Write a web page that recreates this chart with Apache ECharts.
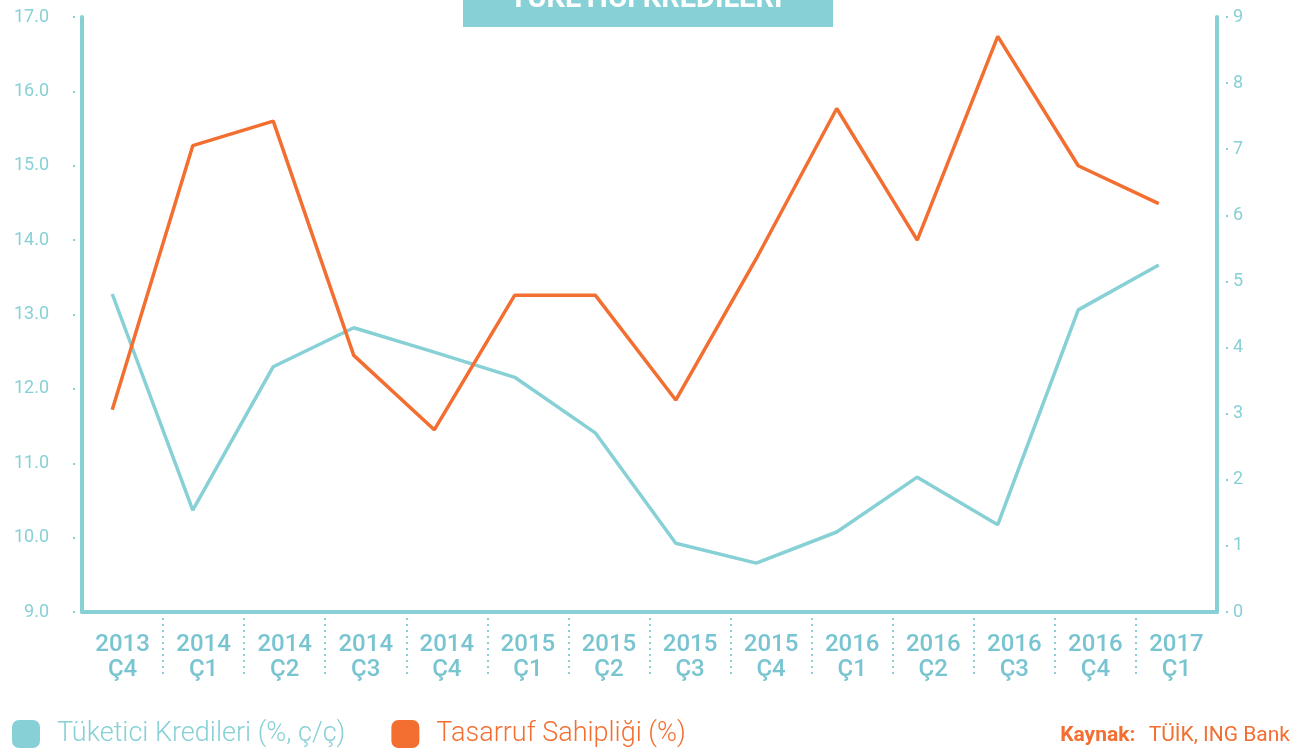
<!DOCTYPE html>
<html>
<head>
<meta charset="utf-8">
<title>Tüketici Kredileri</title>
<script src="https://cdn.jsdelivr.net/npm/echarts@6/dist/echarts.min.js"></script>
<style>
  html, body { margin: 0; padding: 0; background: #fff; }
  #chart { width: 1295px; height: 749px; }
</style>
</head>
<body>
<div id="chart"></div>
<script>
// ceyrekler (quarters)
var quarters = ['2013\nÇ4', '2014\nÇ1', '2014\nÇ2', '2014\nÇ3', '2014\nÇ4', '2015\nÇ1', '2015\nÇ2',
  '2015\nÇ3', '2015\nÇ4', '2016\nÇ1', '2016\nÇ2', '2016\nÇ3', '2016\nÇ4', '2017\nÇ1']
// Tüketici Kredileri (%, ç/ç) - sag eksen
var krediler = [4.81, 1.54, 3.71, 4.30, 3.93, 3.55, 2.71, 1.04, 0.74, 1.21, 2.04, 1.32, 4.57, 5.25]
// Tasarruf Sahipliği (%) - sol eksen
var tasarruf = [11.72, 15.27, 15.60, 12.45, 11.45, 13.26, 13.26, 11.85, 13.75, 15.77, 14.00, 16.74, 15.00, 14.49]

var TEAL = '#87d1d6'
var ORANGE = '#f36f31'
var FONT = 'Roboto'

var chart = echarts.init(document.getElementById('chart'), null, { renderer: 'canvas' })

var hiddenY = { show: false, splitLine: { show: false } }

// separator axis: one slot more than the quarters, ticks only between bands
var separators = quarters.concat([''])

chart.setOption({
  animation: false,
  textStyle: { fontFamily: FONT },
  grid: [
    { left: 82, right: 78, top: 17, bottom: 137 },
    // lines sit a bit left of the label bands, like the original
    { left: 72, right: 96, top: 17, bottom: 137 }
  ],
  legend: {
    left: 7,
    top: 715,
    itemWidth: 28,
    itemHeight: 28,
    itemGap: 46,
    icon: 'roundRect',
    textStyle: { fontSize: 27, fontWeight: 300, fontFamily: FONT, padding: [0, 0, 0, 12] },
    data: [
      { name: 'Tüketici Kredileri (%, ç/ç)', textStyle: { color: TEAL } },
      { name: 'Tasarruf Sahipliği (%)', textStyle: { color: ORANGE } }
    ]
  },
  xAxis: [
    {
      type: 'category',
      gridIndex: 0,
      data: quarters,
      boundaryGap: true,
      axisLine: { lineStyle: { color: TEAL, width: 4 } },
      axisTick: { show: false },
      axisLabel: {
        color: '#78c4d1',
        fontSize: 24,
        fontWeight: 500,
        lineHeight: 25,
        margin: 20,
        interval: 0
      },
      splitLine: { show: false }
    },
    {
      type: 'category',
      gridIndex: 1,
      data: quarters,
      boundaryGap: true,
      show: false
    },
    {
      type: 'category',
      gridIndex: 0,
      data: separators,
      boundaryGap: false,
      position: 'bottom',
      axisLine: { show: false },
      axisLabel: { show: false },
      axisTick: {
        show: true,
        length: 66,
        interval: function (i) { return i > 0 && i < separators.length - 1 },
        lineStyle: { color: TEAL, width: 2, type: [2, 4] }
      },
      splitLine: { show: false }
    }
  ],
  yAxis: [
    {
      type: 'value',
      gridIndex: 0,
      position: 'left',
      min: 9,
      max: 17,
      interval: 1,
      axisLine: { show: true, lineStyle: { color: TEAL, width: 4 } },
      axisTick: { show: true, length: 9, lineStyle: { color: TEAL, width: 2, type: [2, 7], dashOffset: 2 } },
      axisLabel: {
        color: TEAL, fontSize: 18, margin: 5, padding: [0, 28, 0, 0],
        formatter: function (v) { return v.toFixed(1) }
      },
      splitLine: { show: false }
    },
    {
      type: 'value',
      gridIndex: 0,
      position: 'right',
      min: 0,
      max: 9,
      interval: 1,
      axisLine: { show: true, lineStyle: { color: TEAL, width: 4 } },
      axisTick: { show: true, length: 11, lineStyle: { color: TEAL, width: 2, type: [2, 9], dashOffset: 2 } },
      axisLabel: { color: TEAL, fontSize: 18, margin: 16 },
      splitLine: { show: false }
    },
    Object.assign({ type: 'value', gridIndex: 1, min: 9, max: 17 }, hiddenY),
    Object.assign({ type: 'value', gridIndex: 1, min: 0, max: 9 }, hiddenY)
  ],
  graphic: [
    {
      type: 'rect',
      left: 463,
      top: 0,
      shape: { width: 370, height: 27 },
      style: { fill: TEAL }
    },
    {
      type: 'text',
      x: 646,
      y: 14,
      style: {
        text: 'TÜKETİCİ KREDİLERİ',
        fill: '#fff',
        font: 'bold 29px Roboto',
        textAlign: 'center',
        textVerticalAlign: 'bottom'
      }
    },
    {
      type: 'text',
      right: 5,
      top: 725,
      style: {
        text: '{b|Kaynak:}    {n|TÜİK, ING Bank}',
        rich: {
          b: { fill: ORANGE, fontSize: 21, fontWeight: 'bold', fontFamily: FONT },
          n: { fill: ORANGE, fontSize: 21, fontFamily: FONT }
        }
      }
    }
  ],
  series: [
    {
      name: 'Tüketici Kredileri (%, ç/ç)',
      type: 'line',
      xAxisIndex: 1,
      yAxisIndex: 3,
      data: krediler,
      symbol: 'none',
      color: TEAL,
      lineStyle: { color: TEAL, width: 3.5 }
    },
    {
      name: 'Tasarruf Sahipliği (%)',
      type: 'line',
      xAxisIndex: 1,
      yAxisIndex: 2,
      data: tasarruf,
      symbol: 'none',
      color: ORANGE,
      lineStyle: { color: ORANGE, width: 3.5 }
    }
  ]
})
</script>
</body>
</html>
